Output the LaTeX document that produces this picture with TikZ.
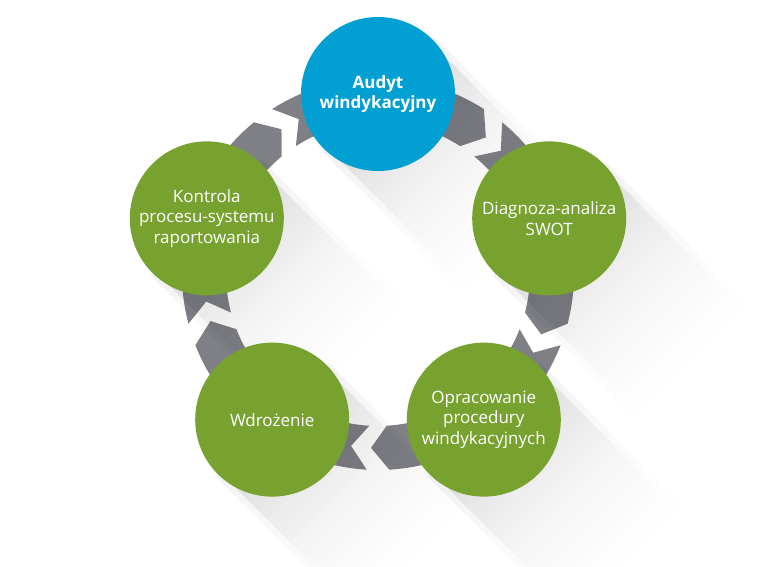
\documentclass[tikz,border=0pt]{standalone}
\usepackage{fontspec}
\setmainfont{Open Sans}
\usetikzlibrary{calc}
\pgfdeclarehorizontalshading{lshadow}{100bp}{color(0bp)=(black!11); color(25bp)=(black!11); color(38bp)=(black!6); color(55bp)=(black!2); color(75bp)=(white); color(100bp)=(white)}
\pgfdeclarehorizontalshading{lshadowsoft}{100bp}{color(0bp)=(black!5); color(25bp)=(black!5); color(40bp)=(black!3); color(60bp)=(black!1); color(75bp)=(white); color(100bp)=(white)}
\definecolor{cblue}{HTML}{029FD3}
\definecolor{cgreen}{HTML}{78A22F}
\definecolor{cgray}{HTML}{7E8086}
\tikzset{
  stage/.style={circle, minimum size=154pt, inner sep=0pt, fill=cgreen, text=white,
    align=center, font=\fontsize{17}{20.5}\selectfont},
  topstage/.style={stage, fill=cblue, font=\fontsize{17}{20.5}\selectfont\bfseries},
  ringpiece/.style={fill=cgray},
  longshadow/.style={shading=lshadow},
  softshadow/.style={shading=lshadowsoft},
}
\begin{document}
\begin{tikzpicture}[x=1pt,y=1pt]
\useasboundingbox (0,0) rectangle (768,566);
\fill[white] (0,0) rectangle (768,566);
\coordinate (O) at (378,292);
% ring pieces
\begin{scope}[shift={(O)}]
\foreach \a in {90,18,-54,-126,162} {
  \pgfmathsetmacro{\b}{\a-72}
  \pgfmathsetmacro{\ea}{\a-36+3.3}
  \pgfmathsetmacro{\ta}{\a-36+3.3-5.6}
  \pgfmathsetmacro{\sb}{\a-36-3.3}
  \pgfmathsetmacro{\nb}{\a-36-3.3-5.6}
  \fill[ringpiece] (\a:196) arc[start angle=\a, end angle=\ea, radius=196]
     -- (\ta:174) -- (\ea:152) arc[start angle=\ea, end angle=\a, radius=152] -- cycle;
  \fill[ringpiece] (\sb:196) -- (\nb:174) -- (\sb:152)
     arc[start angle=\sb, end angle=\b, radius=152] -- (\b:196)
     arc[start angle=\b, end angle=\sb, radius=196] -- cycle;
}
\end{scope}
% long shadows
\begin{scope}[blend mode=multiply]
\foreach \a in {90,18,-54,-126,162} {
  \shade[longshadow, transform canvas={shift={($(O)+(\a:180)$)}, rotate=-45}]
    (0,-74) rectangle (190,74);
  \shade[softshadow, transform canvas={shift={($(O)+(\a:180)$)}, rotate=-45}]
    (0,-80) rectangle (210,80);
}
\end{scope}
% stages
\node[topstage] (audyt) at ($(O)+(90:180)$) {Audyt\\windykacyjny};
\node[stage] (diag) at ($(O)+(18:180)$) {Diagnoza-analiza\\SWOT};
\node[stage] (oprac) at ($(O)+(-54:180)$) {Opracowanie\\procedury\\windykacyjnych};
\node[stage] (wdro) at ($(O)+(-126:180)$) {Wdrożenie};
\node[stage] (kontr) at ($(O)+(162:180)$) {Kontrola\\procesu-systemu\\raportowania};
\end{tikzpicture}
\end{document}
